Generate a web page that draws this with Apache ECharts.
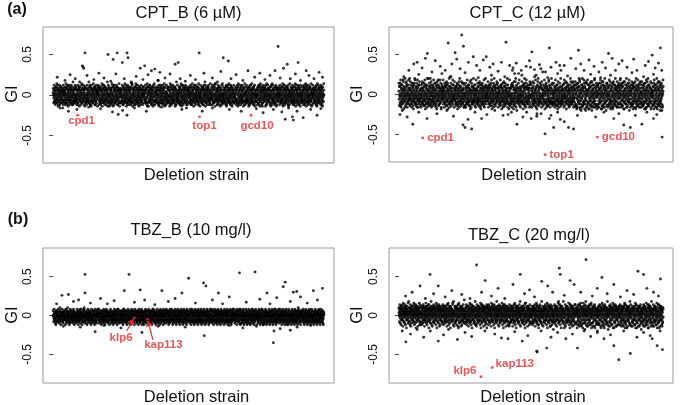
<!DOCTYPE html>
<html><head><meta charset="utf-8">
<script src="https://cdn.jsdelivr.net/npm/echarts@6/dist/echarts.min.js"></script>
<style>html,body{margin:0;padding:0;background:#fff}#c{width:685px;height:405px}</style>
</head><body><div id="c"></div>
<script>
// GI values.
// Dense band: one character per strain, in strain order; character k of ALPHA stands for
// GI = (k-26)*0.02  ('A' = 0, 'B' = +0.02, 'z' = -0.02, ...). Each panel has a central
// layer and a broader layer, both spread over the whole strain order.
// Sparse points and highlighted genes: [rank, GI] with rank on a 0..800 strain-order scale.
const ALPHA = 'abcdefghijklmnopqrstuvwxyzABCDEFGHIJKLMNOPQRSTUVWXYZ';
const RANK_SPAN = 800;

const cptB_core = [
"BCAyzwDEBAxvzFCDyAwxBGEzuyACDBwxzAEFCyvzBDAxwuCEBA",
"zyxCDABwvEFzAyuxBCDGzywAEBxvzCDFAyzwuBEACxyDzBvwAGy",
"EDAzyxwBCAvuzDEFByxzACwBDyvGAzEBxwyCDAuzFBEyxvwA",
"yzAwBCEDxvyzABFGCwuxzADEyBAvwzCDBxyEFAzuwCBDyxzAEBCA",
"CAByzxwDEFvuyACBzwxDGEAyzvBCxwAFDEyzuBACxwyDzEBAvt",
"AzwxyBCDEAuvzyFBAxwCDzGEyvxABzCwDFyAuzxEBCywvDAzBEz",
"DBCzxywAEvuFzABDCyxwzEGBAvyzCxwDABFEyuzxCwDByAzvEH",
"xwyABCzDEuvAzFByxCwDGzAEyvxBCAzwDyFBEuzxACwyDBzvAEB",
"AAzCByxxwDDBEvzzyFCAAtwBxCGEyzDAvwBBzCxyEDAFuzxwBC",
"zwwABCCyDxAEvzFBAyuwDDCxzGAByEvvAzCBxwDFyzEBAuxCzyB",
"CBByxzAwEDvAFzzCyuwBDAxGEyzzBvCAxwDyFEBzAuxwCDyBAz",
"yxAzBBCwEvDFAzyuCBxwDzAGEyBvxzCADwyFBEAzuxCwyDBAzvC",
"DEAByyzxwCBAvuFzDCAyxwBEGzyAvBxzDCwAyFEBzuAxCwyDBz",
"AzByxCwvDEFAuyzBCxwDAzGEByvxACzwDByFEAzuxCBwyDAzBAy",
"FCyBAzxDwvEGAzByHxwCAyDzuBECxAyzwDFAuBzCyxEAwDzBvA",
"yzAxBCwDEyvAzBxFuCyAwDzGBEyxvACzwDByFAEzuxBCwyDAzv",
"BzzAxyyBCwwDxEAvvFBzuyCxADwGzEAByvxCzwDAyFzBEAuxwC",
"BAzCxyDwAEvzByFCuxAwDzBGyEAvxCzBwDyAFEBzuxACwyDBzA",
"wyAEzBDxvCFAuyGzwBDCxAEyzvtBCFxDAzwyBECAzGuxyDBAwzE",
"CxAzEwByDvAFzyCBuxADwGzEyBCvxAzwDyAFBzEuAxCwyBDzAB",
"zAxCyBEwDAvzFyBuxCAwDGzyEBAvxCzwDyAFBEzuAxCwyBDzAC",
"DzyBAxCwEvAzByFxCuAwDzyBGEAxvCzwBDyAFzEBuxACywDBzA",
"AyzBxCwDEvAFzyBuxCwDAGzEyBAvCxzwDyAFBzEuAxCwyBDAzB",
"EyAzCxBwDAvEzFyBxuCwAzDyGBExvAzCwyDBFAzExuCyBwzADA"];
const cptB_wide = [
"EvGwDuFxHvEtDwGuFvCxEsGwDvFuHxEvGtDwFuExGvDuIwFvEx",
"wFuDvGxEtFwDuHvExGwDtFvEuGxDwIvFuEtGwDvHxFuEwGvDtF",
"GuEwFvDxHtEvGwFuDxEvItGwFuDvExHwGtFuDvEwGxFuDvHtEw",
"vDwGuFxEvHwDtFuGvExDwFuIvGtEwDxFuHvEwGuDtFvExGwDuF",
"FxDvGwEuHtFvDwGxEuFvDtGwHuExFvDwJuGtEvFwDxGuEvHtFw",
"uGvEwFxDtHvFuEwGxDvFtEuIwGvDxFuEwHtGvDuFxEwGvsDuFE",
"DwFvGuExHwDtFvEuGxDwFvHuEtGwDvFxEuGwItDvFuExGwDvHu",
"xEuGwDvFtHxEwDuGvFxEtDwGuHvFxDwEuGtFvDxHwEuGvFtDwE",
"GvDwFuExGtHvDwEuFxGvDtEwHuFvGxDwEtFuGvDxHwEuFvGtDw",
"wDuFvGxEtHwFuDvGxEwFtDuHvGxEwDuFtGvHxDwEuFvGtDxEwF",
"EuGvDwFxHtEvGuDwFxEvGtDuHwFvExGuDwFvHtExDuGwFvEtGx",
"vFwDuGxEvHtFwDuGvExFwHtDuGvExFwDuGtHvExFwDuGvEtFwH"];
const cptB_out = [[94,0.52],[86,0.36],[88,0.35],[90,0.33],[162,0.50],[177,0.44],[189,0.52],[218,0.52],[221,0.46],[204,0.40],[360,0.38],[369,0.40],[431,0.52],[502,0.46],[517,0.42],[664,0.60],[691,0.38],[723,0.40],[747,0.30],[257,0.33],[270,0.36],[290,0.30],[300,0.32],[315,0.28],[192,-0.24],[218,-0.25],[685,-0.30],[706,-0.27],[709,-0.31],[738,-0.28],[779,-0.25],
[12,0.22],[35,0.18],[50,0.25],[65,0.2],[78,0.16],[100,0.24],[120,0.19],[135,0.27],[150,0.21],[170,0.17],[185,0.26],[210,0.2],[230,0.15],[245,0.23],[265,0.19],[280,0.25],[310,0.18],[330,0.21],[345,0.26],[375,0.2],[390,0.17],[405,0.24],[420,0.19],[445,0.27],[470,0.21],[485,0.16],[495,0.29],[525,0.2],[540,0.25],[560,0.18],[575,0.3],[595,0.22],[610,0.27],[625,0.19],[640,0.24],[655,0.3],[670,0.21],[680,0.33],[700,0.2],[715,0.26],[730,0.18],[755,0.24],[770,0.2],[785,0.28],[795,0.22],
[20,-0.16],[45,-0.2],[70,-0.18],[105,-0.15],[140,-0.17],[175,-0.21],[205,-0.19],[240,-0.16],[275,-0.2],[320,-0.15],[380,-0.18],[440,-0.2],[470,-0.16],[520,-0.18],[555,-0.2],[600,-0.17],[620,-0.22],[650,-0.18],[675,-0.21],[695,-0.16],[720,-0.2],[760,-0.18],[790,-0.17]];
const cptB_hits = [['cpd1',72,-0.25],['top1',432,-0.27],['gcd10',584,-0.25]];

const cptC_core = [
"CxFzAvHyBtDwEzGAuCxJByvDzFAwsCEyBzIxvAGDzwBuCyEAxK",
"zDwGAyuBCxFvzEBtAyHDwxCzJAvByFuzDxCwEAsyGBzvIxCAwDy",
"AyEvCzBHwxDuAFyzCtBwGxAEvzDyBKuxCAwFzDyvBECxtAzGw",
"BvzDxCyFAuEwBzHyCxAtDvGzBwEyAJxCuzFBwyDAvECrzxBGyAC",
"EwyAzCvDBxFuyGAzCwEtBHxyDAvCzFBwuEyAxLDzCvBwGyAxzE",
"yCAxDwBzFvEuAyCxGzBtDwAyIvCEzBxFuwDyACzHBxvEyDwAzBs",
"xBzEvAyDCwFuBxzGAyvCEtDBwxAzJyCvFBuwDxAEzyCGvBwAxD",
"DzAyCwExBvFyuzAHCxwDBtyEvAzGCxBwyFDuAzECvxByKwzADyB",
"AwCyEzBxvDFyAuCzGwBxEyAtDvCzBHxwAyFEuDzCBxvyAGwEzB",
"zEyBxCAwvDuFzByGxAEwCtyDBvzAxFCwHyBuEzDAxvCyBGwzAEr",
"CvyAzDxBEwuFAyzPGxBvDtwEyAzBIxCvFDyqwBzAExCNyvzDwA",
"BxEzAyvCMwuFBzAyGCxvEtDwByzAHxpvEFuyDzBwAxCEyGvzRAz",
"yDAzCwBxEvFuyAzLBCxwDtvEyAozBxICwFvDuyAzBEwxQGyvADz",
"EzByAxCwvDFuBzOAGxCwEtvDByAzxJCwFvDuyBAnEwxCGyvDAB",
"AyzBxCwEvDuFByAzGxCwtEvDyBAzxSCwFvuDyBAzExwCGyvDAzH",
"BzxAyCEwvDuFzyBAGxCwtEvDByAzxICwFvuDyBAzExwCGyvDAy",
"GtBsAEryCxHwzDvFuAByIzsCwEqBxGyAtDzFvCJuwBrEAyHxzCD",
"wHAsBzGvCuDrEyAxFtBzIwCyqDAvGzBsExAyJuCwBFtzDAyrGB",
"zCuGAwEsByDxHAvzFrCBtyIAwDzuGBxEsAyCvFDqzBwHAtyECxz",
"AFtBzxGwCusDyEAvHzrBCwIyAxuDGzBtFwyAECsvDBzGxyAuFC",
"sByDGzAwuECxFtAHyBzrvCwDIAyEzuBxGsACwFDyzvHBqAxECu",
"CzGAxvBtEDyuFwzHAsBCyIxrDAzwGvEBtCyFxAuzDHwsByACvG",
"xEBzAtGyCwuDFrAzBHyvsCxEAwIzDBuyGtCxFAzwEBvrDyACzB",
"BwFyAzuHCtxDvEGAsyBzCwrFDxIuAyzEBtGCvwAxHyDqzBsACF"];
const cptC_wide = [
"HtFuJsGvExIrDwKtHuFsGvJxEtIuDsHwFrGvKuEtHsJwFuGxDt",
"sGuIvEtHwJrFuGsDvKtHxFuIsEwGtJvDuHsFrIwGtEuJvHsDxF",
"JuEsHvFtIwGrDuKsFvHtEwJuGsIxDtFvHrEuGsKwFtIvDuHsGt",
"tHsFuJvEwGtIrDsHuFvKwEtGsJuDvHtFwIsGrEuHvDtJsFwGuE",
"FwIsGuEtHvJrDwFsKuGtEvIwHsDuFtJvGrEwHsIuFtDvGwKsEu",
"uJtEvGsHwFrIuDtKsGvEwHuJtFsDvIwGrEuHtFsJvDwGuEsItH",
"GsEuItHwDvJsFrGuKtEwHvFsIuDtGwJrEvHsFuDtIwGsEvKuHt",
"vHuFsJtDwGrIuEsHvKtFwDuGsJtEvIrHwFuDsGtKvEuHwIsFtD",
"IuGtEsHvFwJrDuGsKtEvHwFuIsDtJvGrEwHuFsItDvGwKsEuHt",
"tFsHuDvJwErGtIsFuKvDwHtGsEuJvIrDwFtHsGuEvKwDtIsFuH",
"EvJuGsHtFwIrDvGuKsEtHwJvFsDuItGrHwEvFsKuDtJwGsEuIv",
"sIuEtGvHwDrJsFuKtGvEwIsHuDtFrJvGwEsKuHtDvIwFsGuEtJ"];
const cptC_out = [[190,0.74],[149,0.64],[195,0.60],[324,0.65],[455,0.58],[791,0.58],[402,0.53],[543,0.55],[86,0.51],[170,0.52],[634,0.51],[766,0.49],[225,0.47],[264,0.47],
[42,-0.37],[194,-0.38],[200,-0.41],[220,-0.43],[209,-0.31],[357,-0.37],[442,-0.49],[468,-0.41],[513,-0.41],[528,-0.43],[488,-0.31],[417,-0.27],[680,-0.38],[700,-0.41],[735,-0.37],[796,-0.53],[3,-0.25],[266,-0.25],[330,-0.25],[400,-0.3],[780,-0.25],
[30,0.3],[45,0.38],[55,0.4],[70,0.33],[80,0.45],[100,0.28],[110,0.42],[125,0.35],[140,0.3],[160,0.38],[175,0.44],[185,0.32],[210,0.4],[235,0.36],[245,0.3],[255,0.43],[275,0.34],[285,0.38],[300,0.29],[310,0.4],[335,0.36],[345,0.33],[355,0.39],[370,0.3],[385,0.35],[395,0.42],[410,0.31],[425,0.37],[435,0.28],[460,0.34],[475,0.4],[490,0.3],[500,0.36],[520,0.45],[535,0.32],[550,0.38],[560,0.3],[575,0.43],[590,0.35],[605,0.28],[615,0.4],[625,0.33],[645,0.45],[655,0.3],[665,0.38],[675,0.42],[690,0.34],[710,0.44],[720,0.3],[745,0.36],[755,0.41],[775,0.33],[785,0.39],[795,0.3],
[15,0.22],[60,0.25],[95,0.2],[130,0.26],[155,0.22],[200,0.27],[240,0.21],[280,0.24],[320,0.22],[350,0.26],[380,0.2],[415,0.24],[450,0.21],[480,0.26],[510,0.23],[545,0.2],[580,0.25],[610,0.21],[640,0.24],[670,0.2],[705,0.27],[740,0.22],[770,0.25],
[10,-0.2],[25,-0.28],[60,-0.22],[85,-0.3],[115,-0.24],[145,-0.2],[165,-0.27],[230,-0.22],[250,-0.3],[290,-0.2],[315,-0.26],[340,-0.22],[375,-0.28],[430,-0.24],[455,-0.3],[480,-0.22],[500,-0.34],[540,-0.26],[565,-0.2],[595,-0.28],[620,-0.22],[650,-0.3],[665,-0.24],[715,-0.26],[750,-0.22],[770,-0.3],[790,-0.2]];
const cptC_hits = [['cpd1',72,-0.54],['top1',442,-0.75],['gcd10',600,-0.53]];

const tbzB_core = [
"AAzyByCCxzzABwDyAABzxxCyAzBDwzyAACBxyzzABCwxyABzDAy",
"zzyABxCAAywDBzzCyxABBzwyACDzxAyyBzCAxwzBADyyzCBxAz",
"BByzAxxCzADwyBBzAyCxzzAEBywAzCBxyAADzzwBByCAxzyAB",
"yAAzBxCCyzDAwBzyxACBzAyyDwBAzxCzBAyDxzwABByCAzzxBD",
"AzzxBByCAwzDByyxACzBAzyxDBBwAyCzzxBAyDAzCwxBByzCAx",
"zBBAyxCDzAAywzBCxAyyBzDAwxCBzyAxDAyBzCwxyBBAzDCxy",
"CAAzyBxDzAwyBBCxAzyByDAxzwwBCyAAzxDBAyzzCwxBAyzDBx",
"ByzzAxCBDzwAAyBxCzzAyDBwxzACyBBAzxDwByCAzzyxBDACzw",
"AzyyBxCAwzDByAAxCzByAwDxzzBCAyzxBDAwyyCzBAxyDzCBwA",
"yBAAzxCDwAyzBCxAAzyBwDAxCzzyBAwxDzBCyAAzxBwDAyCzBx",
"BAzyxxCDBwAzyCxBAAzwDyxBCAzyByxwDACzyBxAwzDyCBAAxz",
"zAyBxCwDAzzyBCxAyzwBBDxACyzBAxwDyyBCzAyxBwzDACyBxA",
"AAByzxCwDAyBBzCxwAyBzDxACwyzBAAxDwyBCzAxyBwDzACyBx",
"yzABxCwDyAzBBCxwAyzBDxCAAwyBzAxDwyCBAzzxyBwDzCAyBx",
"BAyzCxwDAyzzBxCwAAyBzDxACwyBzxADwyCBAzyxBBwDzACyBx",
"zyAABxCwDAyzBCxwwAyBzDxACwyzBAxDDwyCBzAxyBwDzACyBx",
"ACBzyAxwyBzDAAzxBCyzAwBxDAzyEBzAxvCyBAzwDBxAyzCAzB",
"yBzAAxCzwyBDAzxBCAyzvBxDzAyCBwAzxEyBAzCxwyDBAzzyBA",
"BAxzyCAzBwDyxABzCAyxzBwDAEzyBxCAzwvyBDAxzCByAzwBCA",
"zyBAxCBzAwyDAzxBCyAzwBxDAyzCBAxwzEyBAzCxDwyBAzyxBA",
"AxzByCAzwyBDxAzCByAzwxBDAyCzBxAwzDyBAuzxCByAwzDBAy",
"yBzAxCAwzByDxAzCBAyzwxBDAyCzBxwAzDyFBAzxCyBAwzDByA",
"ABzyxCAzBwDyAxzCByAzwxBDAyCzBxwAzDyBAzxCyBAwzDByAz",
"zAByxCAzwBDyAxzCByAwzxBDAyCzBxwAzDyBAzxCyBAwzDByAB"];
const tbzB_wide = [
"DwExCvuDDwCExvwFDuCxEwvCCDxuEwvDFxCwuvEDxwCDvExuwC",
"xvwEDCuwxDEvCCuxwDEFvwxCDuvEwDxCCvuEwxDDvCuExwvDCE",
"EEvwxCDuvDxwECvuDxEwCCvwDuxEvDCwxuvDECxwvDuEExCvwD",
"wCDxvuEEDwxCvDuwExCvDxuwEDCvxwuEDxCvwDCuExvwDCEuxv",
"CuDwxEvCDxwuEvDCxwvuDEExCwvDuxCEwvxDuCEvwxDCuEwvxD",
"vEDxwCuDvExwCEDuvxwDCEvuxDwECvxuDwECxvuDEwxCvDuEwx",
"DxCvEwuDEwxCvuDECxvwDuExCwvDEuxCwvEDxuCvwEDCxuvwEDx",
"wEvDxuCEwDvxCuEDwvCxuEDvwxCDuEvwDxCEuvwxDCEvuwDxEC",
"ExvwDCuEDxwvCEuDvxwCEDuvxwECDuvwxEDCuvxwEDCvuxwDEC",
"uCDwvxEDuCwvExDuvCwxEDuvCwxDEuvCxwDEuvxCwEDuvxCwDE",
"DvEwxCuDEvwxCuDEvxwCuEDvwxCuDEvxwCuEDvwxCuDEvxwCuD",
"CwDExvuCwEDxvuCwDExvuCEwDxvuCwEDxvuCwDExvuCEwDxvuC"];
const tbzB_out = [[94,0.53],[224,0.53],[400,0.48],[550,0.55],[596,0.56],[444,0.42],[451,0.38],[685,0.43],[679,0.37],[94,0.29],[210,0.32],[257,0.33],[321,0.32],[380,0.29],[26,0.26],[45,0.27],[631,0.29],[709,0.3],[719,0.31],[768,0.32],[795,0.35],[488,0.29],
[650,-0.35],[652,-0.2],[446,-0.26],[262,-0.22],[124,-0.21],[700,-0.19],
[10,0.15],[60,0.18],[75,0.2],[110,0.16],[140,0.22],[160,0.15],[180,0.19],[240,0.17],[270,0.2],[300,0.14],[340,0.18],[360,0.22],[420,0.16],[470,0.2],[500,0.15],[520,0.24],[570,0.17],[610,0.21],[640,0.15],[660,0.23],[700,0.18],[730,0.24],[750,0.16],[780,0.2],
[30,-0.14],[80,-0.15],[150,-0.13],[200,-0.16],[310,-0.14],[390,-0.15],[520,-0.13],[560,-0.16],[600,-0.14],[620,-0.12],[670,-0.17],[720,-0.15],[760,-0.13]];
const tbzB_hits = [['klp6',239,-0.03],['kap113',278,-0.05]];

const tbzC_core = [
"CAEBzDFyCBGAxDEzBHCyAFDwBCEzAGDByCFAxEBDzCIAyDBFwC",
"BDzCEAyFBxDGCzAEByDHAwCFBzEDyAGCBxFDAzECyBIDwACFzBu",
"DByCFAzEBwDGyCABFzxDEACyGBzFDAwCEByHDzAFCxBEDyAG",
"ECzBDAyFCwEBGzADCyFBxEAHDzCBwFyDAEGCzBxDFAyEBCwzDAv",
"AFDzCByEGxBDAzFCywEBHAzDCFyBxEDAGzCBwFDyAECzBIxDAC",
"CDyBzFAwEGBxDCAzFyBEtHDzACwBFyDEAzGCxBDwFAyECzBDKAy",
"BEzDCyAFxBGDwzACEyBFDAxHzCBwEDyAFCzGBxDAEyCwBFzDuA",
"DAyCFzBxEDGwACzBFyEDAxCzHBwFDAyECzGBxDFAyCEwBzDAFCs",
"yCBFzADxEGBwCDAzFyBEAxDCzHwBFDyAEGCzxBDFAyCwEBzDAG",
"BzDCyEAFwBxGDCzAEyBFDxACzHwBDFyAECzGxBDAFyCwEBzDAFt",
"ADCzByFEwAxGBDCzEyAFDxBCzHwADFyBECzGxADBFyCwEAzDBF",
"CBzDyAFEwBxGCDAzEyBFDxACzIwBDFyAECzGxBDAFyCwEBzDvAB",
"zBDCyAEFwxBGDCAzEyBFxDACHzwBDFyAEuCGzxBDAFyCwEBzDA",
"DzBCyAFEwBxGDCzAEyBFxDACzHwBDFyAECzGxtBDAFyCwEBzDAr",
"BDzCyAEFwBxGDCzAEyBFDxAJCzHwBDFyAECzGxBDAFyCwEBzDs",
"CzBDyAFEwBxGDCAzEyBFDxACzHwBDFyAEuCGzxBDAFyCwEBzDAE",
"ECvBDAsCFzByHDwACuEBzGyDAFtCBxEDzAIvBCyFDArBEzCxGA",
"DBAyEtCFzBxDGuACEByDzHAvCBFDytAEzCGBxDsAFyBECwDzAq",
"BFCzDyAEuBGxCDAsFzByEHDwCAtBFyDzEGxAuCBDFyzCAEwBrD",
"CDAzEBtFyCxGDBuAEzCFyBDHsACzwBEDyGFAtxCBzDEyAFuCBz",
"AEBCzDyFtxBGCDAzuEByFDxHCAszBwDEFyAGCtBxDzAFyCEuBD",
"BCzDAyEFwtBGxCDAzEyBuFDxACHzsBwDEFyAGCBtxDAzFyCEBr",
"DAzCByEFwBxtGDCAzEyBFuDxACzHwBsDFyAECzGxBDtAFyCwEB",
"CBzDyAEtFwBxGDCAzEuyBFDxACzHwBDsFyAECzGxBDAFtyCwEz"];
const tbzC_wide = [
"FwHvEuGxDtIwFvHuEsGxDvJwFuHtEvGxDwIuFvHsEwGtDxFuHv",
"wGuEvHxFtDwIvGuExHsFwDvJuGtEwHvFxDuIsGwEvHtFuDxGwE",
"HuDwGvFxEtHwIuDvGsFxEwHuJtDvGwFuExHsIvDwGtFuExHwDv",
"vFwHuDxGtEvIwFuHsDxGvEwJuFtHvDxGwEuIsFvHwDtGxEuFvH",
"GxEuHwDvFtIxGwEuHsDvFwJxGuEtHvDwFxIuGsEvHwDtFxGuEw",
"uHvDwGxEtFvHwIuDsGxFvEwHuJtDxGvFwEuHsIvDwGtFxEuHvD",
"EwGuFvDxHtEwIvGuDsFxHwEvJuGtDwFvHxEuIsGwDvFtHxEuGw",
"xDvHwFuGtExIvDwHuFsGxEvJwDuHtFvGxEwIuDsHvFwGtExDuH",
"HvFwDuGxEtHvIwFuDsGxEvHwJuDtFvGxHwEuIsDvFwGtHxEuDv",
"wEuGvHxDtFwIuEvGsHxDwFvJuEtGwHvDxFuIsEwGvHtDxFuEwG",
"GuHwEvDxFtGwIvHuEsDxFwGvJuHtEwDvFxGuIsHwEvDtFxGuHw",
"vDwFuHxGtEvIwDuFsHxGvEwJuDtHvFxGwEuIsDvHwFtGxEuDvF"];
const tbzC_out = [[566,0.72],[235,0.65],[94,0.53],[367,0.53],[485,0.61],[488,0.53],[723,0.57],[740,0.53],[791,0.47],[614,0.49],[261,0.45],[432,0.44],[518,0.45],[64,0.38],[119,0.38],
[21,-0.34],[119,-0.33],[177,-0.31],[417,-0.46],[418,-0.47],[447,-0.42],[540,-0.42],[665,-0.57],[700,-0.49],[650,-0.39],[781,-0.39],[797,-0.44],[766,-0.3],[373,-0.33],[330,-0.3],[310,-0.29],
[20,0.25],[40,0.3],[80,0.22],[105,0.28],[140,0.24],[160,0.32],[190,0.27],[215,0.22],[250,0.3],[280,0.25],[300,0.35],[320,0.22],[345,0.4],[380,0.28],[395,0.33],[410,0.24],[450,0.38],[465,0.3],[500,0.26],[530,0.4],[550,0.3],[585,0.25],[600,0.35],[630,0.28],[650,0.4],[670,0.24],[690,0.32],[710,0.27],[750,0.35],[770,0.3],[785,0.25],
[10,-0.2],[35,-0.24],[55,-0.18],[75,-0.28],[95,-0.2],[135,-0.25],[150,-0.18],[200,-0.22],[220,-0.27],[260,-0.2],[290,-0.24],[350,-0.21],[390,-0.26],[430,-0.2],[460,-0.28],[480,-0.22],[505,-0.3],[525,-0.24],[560,-0.2],[580,-0.27],[600,-0.22],[620,-0.3],[640,-0.25],[680,-0.2],[720,-0.28],[740,-0.22],[760,-0.26],[790,-0.2]];
const tbzC_hits = [['klp6',248,-0.79],['kap113',282,-0.67]];

const titles = ['CPT_B (6 µM)', 'CPT_C (12 µM)', 'TBZ_B (10 mg/l)', 'TBZ_C (20 mg/l)'];
const yTicks = [-0.5, 0, 0.5];

function decode(lines) {
  const s = lines.join('');
  const out = [];
  for (let i = 0; i < s.length; i++) out.push([i * RANK_SPAN / s.length, (ALPHA.indexOf(s[i]) - 26) / 50]);
  return out;
}

const FONT = '"Liberation Sans", Arial, sans-serif';
const RED = '#e62a2e';
const panels = [
  {core: cptB_core, wide: cptB_wide, out: cptB_out, hits: cptB_hits, grid: {left: 43, top: 27, width: 291, height: 136}, ylim: 0.84,
   lab: [{position: 'bottom', distance: 0, offset: [4, -2]}, {position: 'bottom', distance: 0, offset: [5, 2]}, {position: 'bottom', distance: 0, offset: [6, 3]}]},
  {core: cptC_core, wide: cptC_wide, out: cptC_out, hits: cptC_hits, grid: {left: 389, top: 27, width: 284, height: 135}, ylim: 0.84,
   lab: [{position: 'right', distance: 3}, {position: 'right', distance: 3}, {position: 'right', distance: 3}]},
  {core: tbzB_core, wide: tbzB_wide, out: tbzB_out, hits: tbzB_hits, grid: {left: 43, top: 248, width: 291, height: 135}, ylim: 0.87,
   lab: [{position: 'inside', offset: [-13, 20]}, {position: 'inside', offset: [16, 25]}]},
  {core: tbzC_core, wide: tbzC_wide, out: tbzC_out, hits: tbzC_hits, grid: {left: 389, top: 248, width: 284, height: 135}, ylim: 0.87,
   lab: [{position: 'left', distance: 3, offset: [0, -6]}, {position: 'right', distance: 2, offset: [0, -4]}]}
];

const grids = [], xAxes = [], yAxes = [], series = [];
panels.forEach((p, i) => {
  const pts = decode(p.core).concat(decode(p.wide), p.out);
  grids.push(Object.assign({show: true, borderColor: '#9a9a9a', borderWidth: 1, backgroundColor: 'transparent'}, p.grid));
  xAxes.push({gridIndex: i, type: 'value', min: -30, max: RANK_SPAN + 29, show: false});
  yAxes.push({gridIndex: i, type: 'value', min: -p.ylim, max: p.ylim, splitLine: {show: false},
    axisLine: {show: false},
    axisTick: {show: true, length: 4, lineStyle: {color: '#444', width: 1}, customValues: yTicks},
    axisLabel: {customValues: yTicks, rotate: 90, margin: 9, fontSize: 12, color: '#111', fontFamily: FONT,
      formatter: v => (v === 0 ? '0' : String(v))}});
  series.push({type: 'scatter', xAxisIndex: i, yAxisIndex: i, data: pts, symbol: 'circle', symbolSize: 2.9,
    itemStyle: {color: '#000'}, silent: true, z: 2});
  const hitData = p.hits.map((h, k) => ({name: h[0], value: [h[1], h[2]],
    label: Object.assign({show: true, formatter: '{b}', color: RED, fontWeight: 'bold', fontSize: 11.5, fontFamily: FONT}, p.lab[k])}));
  const s = {type: 'scatter', xAxisIndex: i, yAxisIndex: i, data: hitData, symbol: 'circle', symbolSize: 2.9,
    itemStyle: {color: RED}, silent: true, z: 5};
  if (i === 2) {
    s.markLine = {silent: true, symbol: ['none', 'arrow'], symbolSize: 6, animation: false,
      lineStyle: {color: RED, width: 1.2, type: 'solid'}, label: {show: false},
      data: [[{coord: [217, -0.2]}, {coord: [237, -0.045]}], [{coord: [294, -0.31]}, {coord: [280, -0.07]}]]};
  }
  series.push(s);
});

const txt = (x, y, text, size, opts) => Object.assign({type: 'text', x: x, y: y,
  style: {text: text, font: (opts && opts.bold ? 'bold ' : '') + size + 'px ' + FONT, fill: '#111', align: 'center', verticalAlign: 'middle'}}, opts && opts.rot ? {rotation: Math.PI / 2} : {});

const graphic = [
  txt(17, 10, '(a)', 16, {bold: true}), txt(18, 220, '(b)', 16, {bold: true}),
  txt(188.5, 13, titles[0], 16.5), txt(527.5, 13, titles[1], 16.5),
  txt(191, 230, titles[2], 16.5), txt(529, 235, titles[3], 16.5),
  txt(196.5, 175, 'Deletion strain', 16.5), txt(534, 175, 'Deletion strain', 16.5),
  txt(196.5, 397, 'Deletion strain', 16.5), txt(533, 397, 'Deletion strain', 16.5),
  txt(12, 94, 'GI', 16.5, {rot: true}), txt(357, 94, 'GI', 16.5, {rot: true}),
  txt(12, 315, 'GI', 16.5, {rot: true}), txt(357, 315, 'GI', 16.5, {rot: true})
];

const chart = echarts.init(document.getElementById('c'));
chart.setOption({animation: false, grid: grids, xAxis: xAxes, yAxis: yAxes, series: series, graphic: graphic});
</script></body></html>
